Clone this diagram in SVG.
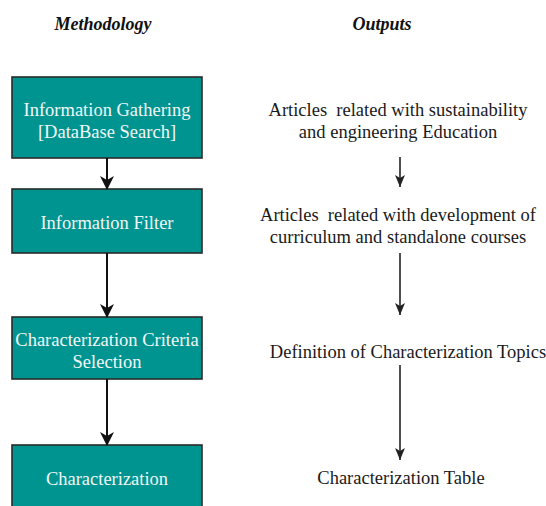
<svg xmlns="http://www.w3.org/2000/svg" width="546" height="506" viewBox="0 0 546 506">
<style>
.box{fill:#009490;stroke:#2a2a2a;stroke-width:1.6}
.bt{font-family:"Liberation Serif","Times New Roman",serif;font-size:18.5px;fill:#f2f7f7;text-anchor:middle}
.ot{font-family:"Liberation Serif","Times New Roman",serif;font-size:18.5px;fill:#1a1a1a;text-anchor:middle;white-space:pre}
.hd{font-family:"Liberation Serif","Times New Roman",serif;font-size:18px;font-weight:bold;font-style:italic;fill:#111;text-anchor:middle}
.la{stroke:#111;stroke-width:2;fill:none;marker-end:url(#ah)}
.ra{stroke:#222;stroke-width:1.6;fill:none;marker-end:url(#ah2)}
</style>
<defs>
<marker id="ah" markerWidth="14" markerHeight="14" refX="13" refY="7" orient="auto" markerUnits="userSpaceOnUse" viewBox="0 0 14 14">
<path d="M0,0 L14,7 L0,14 L4,7 Z" fill="#111"/>
</marker>
<marker id="ah2" markerWidth="12" markerHeight="10" refX="12" refY="5" orient="auto" markerUnits="userSpaceOnUse" viewBox="0 0 12 10">
<path d="M0,0 L12,5 L0,10 L3,5 Z" fill="#222"/>
</marker>
</defs>
<rect width="546" height="506" fill="#fff"/>
<text class="hd" x="103" y="30">Methodology</text>
<text class="hd" x="382" y="30">Outputs</text>

<g id="n1"><rect class="box" x="12" y="77" width="190" height="81"/><text class="bt" x="107" y="116">Information Gathering</text><text class="bt" x="107" y="138">[DataBase Search]</text></g>
<g id="n2"><rect class="box" x="12" y="189" width="190" height="64"/><text class="bt" x="107" y="229">Information Filter</text></g>
<g id="n3"><rect class="box" x="12" y="317" width="190" height="62"/><text class="bt" x="107" y="346">Characterization Criteria</text><text class="bt" x="107" y="368">Selection</text></g>
<g id="n4"><rect class="box" x="12" y="445" width="190" height="70"/><text class="bt" x="107" y="485">Characterization</text></g>

<g id="o1"><text class="ot" x="398" y="116" xml:space="preserve">Articles  related with sustainability</text><text class="ot" x="398" y="138">and engineering Education</text></g>
<g id="o2"><text class="ot" x="398" y="221" xml:space="preserve">Articles  related with development of</text><text class="ot" x="398" y="243">curriculum and standalone courses</text></g>
<g id="o3"><text class="ot" x="408" y="358">Definition of Characterization Topics</text></g>
<g id="o4"><text class="ot" x="401" y="484">Characterization Table</text></g>

<g id="connectors">
<path class="la" d="M107,158 V189"/>
<path class="la" d="M107,253 V317"/>
<path class="la" d="M107,379 V445"/>
<path class="ra" d="M400,157 V187"/>
<path class="ra" d="M400,253 V315"/>
<path class="ra" d="M400,365 V460"/>
</g>
</svg>
